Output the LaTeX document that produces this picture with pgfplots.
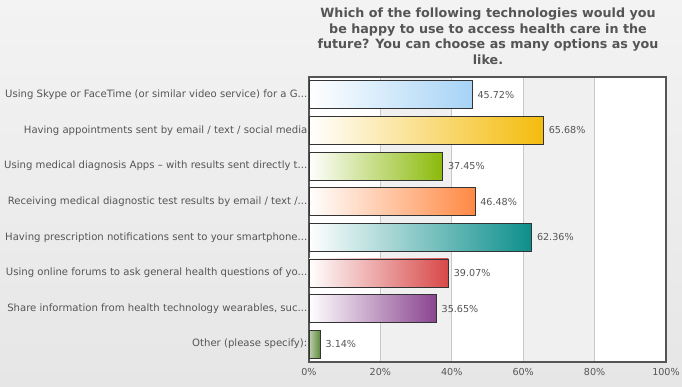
\documentclass[border=0pt]{standalone}
\usepackage{pgfplots}
\pgfplotsset{compat=1.18}
\usepackage{fontspec}
\setmainfont{DejaVu Sans}
\protected\def\dd{.\kern0pt.\kern0pt.}
\definecolor{txt}{HTML}{555555}
\definecolor{bgtop}{HTML}{F3F3F3}
\definecolor{bgbot}{HTML}{E6E6E6}
\definecolor{colgray}{HTML}{F0F0F0}
\definecolor{gridc}{HTML}{C8C8C8}
\definecolor{frame}{HTML}{555555}
\definecolor{barb}{HTML}{333333}
\definecolor{c1}{HTML}{A6D3F6}
\definecolor{c2}{HTML}{F4BC0C}
\definecolor{c3}{HTML}{8BBA0A}
\definecolor{c4}{HTML}{FF8944}
\definecolor{c5}{HTML}{0C8F8B}
\definecolor{c6}{HTML}{D84848}
\definecolor{c7}{HTML}{8A4490}
\definecolor{c8}{HTML}{5E8A3A}
\begin{document}
\begin{tikzpicture}
\shade[top color=bgtop, bottom color=bgbot] (0,0) rectangle (682bp,387bp);
\path[use as bounding box] (0,0) rectangle (682bp,387bp);
\fill[white] (309bp,25bp) rectangle (666bp,310bp);
\fill[colgray] (380.4bp,25bp) rectangle (451.8bp,310bp);
\fill[colgray] (523.2bp,25bp) rectangle (594.6bp,310bp);
\node[font=\fontsize{12.7bp}{15.6bp}\selectfont\bfseries, text=txt, align=center, anchor=north] at (488bp,382.5bp)
 {Which of the following technologies would you\\be happy to use to access health care in the\\future? You can choose as many options as you\\like.};
\begin{axis}[
 at={(309bp,25bp)}, anchor=south west, scale only axis,
 width=357bp, height=285bp,
 xmin=0, xmax=100, ymin=0.5, ymax=8.5, y dir=reverse,
 xbar, bar width=28bp, bar shift=0pt,
 axis line style={draw=frame, line width=2bp},
 xmajorgrids, major grid style={draw=gridc, line width=0.8bp},
 xtick={0,20,40,60,80,100},
 xticklabels={0\%,20\%,40\%,60\%,80\%,100\%},
 ytick={1,2,3,4,5,6,7,8},
 yticklabels={
  {Using Skype or FaceTime (or similar video service) for a G\dd},
  {Having appointments sent by email / text / social media},
  {Using medical diagnosis Apps – with results sent directly t\dd},
  {Receiving medical diagnostic test results by email / text /\dd},
  {Having prescription notifications sent to your smartphone\dd},
  {Using online forums to ask general health questions of yo\dd},
  {Share information from health technology wearables, suc\dd},
  {Other (please specify):}},
 major tick length=0pt,
 tick label style={font=\fontsize{9.6bp}{11bp}\selectfont, text=txt},
 yticklabel style={inner sep=1.5bp, font=\fontsize{10.1bp}{12bp}\selectfont},
 xticklabel style={yshift=-3bp},
 /pgf/number format/assume math mode=true,
 point meta=x,
 nodes near coords={\pgfmathprintnumber[fixed,fixed zerofill,precision=2]{\pgfplotspointmeta}\%},
 nodes near coords style={font=\fontsize{9.6bp}{11bp}\selectfont, text=txt, anchor=west, inner sep=3bp, xshift=2bp},
 every axis plot/.append style={draw=barb, line width=0.8bp},
]
\addplot[left color=white, right color=c1] coordinates {(45.72,1)};
\addplot[left color=white, right color=c2] coordinates {(65.68,2)};
\addplot[left color=white, right color=c3] coordinates {(37.45,3)};
\addplot[left color=white, right color=c4] coordinates {(46.48,4)};
\addplot[left color=white, right color=c5] coordinates {(62.36,5)};
\addplot[left color=white, right color=c6] coordinates {(39.07,6)};
\addplot[left color=white, right color=c7] coordinates {(35.65,7)};
\addplot[left color=c8!40!white, right color=c8] coordinates {(3.14,8)};
\end{axis}
\end{tikzpicture}
\end{document}
